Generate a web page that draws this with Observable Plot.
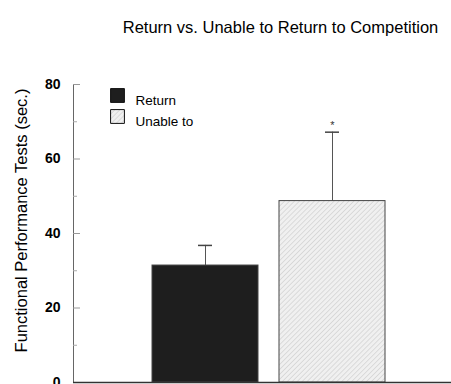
<!DOCTYPE html>
<html>
<head>
<meta charset="utf-8">
<script src="https://cdn.jsdelivr.net/npm/d3@7"></script>
<script src="https://cdn.jsdelivr.net/npm/@observablehq/plot@0.6"></script>
<style>
  html, body { margin: 0; padding: 0; background: #fff; }
  #chart svg { display: block; }
</style>
</head>
<body>
<div id="chart"></div>
<script>
const categories = ["Return", "Unable to"];
const means = [31.4, 48.7];
const errorTops = [36.8, 67.2];
const significance = ["", "*"];
const yTicks = [0, 20, 40, 60, 80];
const minorTicks = [10, 30, 50, 70];
const title = "Return vs. Unable to Return to Competition";
const yLabel = "Functional Performance Tests (sec.)";
const fills = ["#1e1e1e", "url(#hatch)"];

const data = categories.map((c, i) => ({cat: c, mean: means[i], top: errorTops[i], sig: significance[i], fill: fills[i]}));
const legend = categories.map((c, i) => ({cat: c, fill: fills[i], row: i}));

const font = "'Liberation Sans', Arial, Helvetica, sans-serif";

const legendMarks = legend.flatMap((d) => [
  Plot.dot([d], {frameAnchor: "top-left", dx: 44, dy: 11 + 21 * d.row, symbol: "square", r: 7.8, fill: "fill", stroke: "#111", strokeWidth: 1}),
  Plot.text([d], {frameAnchor: "top-left", dx: 62, dy: 11 + 21 * d.row, text: "cat", textAnchor: "start", fontSize: 13.5, letterSpacing: "0.7px", fill: "#000"})
]);

const plot = Plot.plot({
  width: 451,
  height: 384,
  marginTop: 84,
  marginBottom: 2,
  marginLeft: 73,
  marginRight: 0,
  style: {fontFamily: font, fontSize: "11px", background: "#fff", color: "#000"},
  x: {domain: categories, range: [141.5, 395.5], paddingInner: 0.165, paddingOuter: 0.0825, axis: null},
  y: {domain: [0, 80], label: null},
  marks: [
    Plot.frame({anchor: "left", stroke: "#666"}),
    Plot.axisY({ticks: minorTicks, tickSize: -4, text: null, stroke: "#aaa"}),
    Plot.axisY({ticks: yTicks, tickSize: -7, text: null, stroke: "#999"}),
    Plot.axisY({ticks: yTicks, tickSize: 0, tickPadding: 13, fontWeight: "bold", fontSize: 14, label: null}),
    Plot.text([yLabel], {frameAnchor: "left", rotate: -90, dx: -52, dy: -13, textAnchor: "middle", fontSize: 16.5, letterSpacing: "0.6px", fill: "#000"}),
    Plot.ruleX(data, {x: "cat", y1: "mean", y2: "top", stroke: "#555", strokeWidth: 1}),
    Plot.tickY(data, {x: "cat", y: "top", stroke: "#444", strokeWidth: 1.5, insetLeft: 46, insetRight: 46}),
    Plot.barY(data, {x: "cat", y: "mean", fill: "fill", stroke: "#444", strokeWidth: 1}),
    Plot.text(data, {x: "cat", y: "top", text: "sig", dy: -7, fontSize: 11, fill: "#333"}),
    Plot.ruleY([0], {stroke: "#333", strokeWidth: 1.5}),
    Plot.text([title], {frameAnchor: "top", dx: 18, dy: -63, fontSize: 16.5, letterSpacing: "0.7px", fill: "#000"}),
    ...legendMarks
  ]
});

// hatch pattern
const svg = d3.select(plot);
const defs = svg.insert("defs", ":first-child");
const pat = defs.append("pattern").attr("id", "hatch").attr("patternUnits", "userSpaceOnUse").attr("width", 3.5).attr("height", 3.5).attr("patternTransform", "rotate(45)");
pat.append("rect").attr("width", 3.5).attr("height", 3.5).attr("fill", "#f0f0f0");
pat.append("line").attr("x1", 0).attr("y1", 0).attr("x2", 0).attr("y2", 3.5).attr("stroke", "#c4c4c4").attr("stroke-width", 1);

document.getElementById("chart").appendChild(plot);
</script>
</body>
</html>
